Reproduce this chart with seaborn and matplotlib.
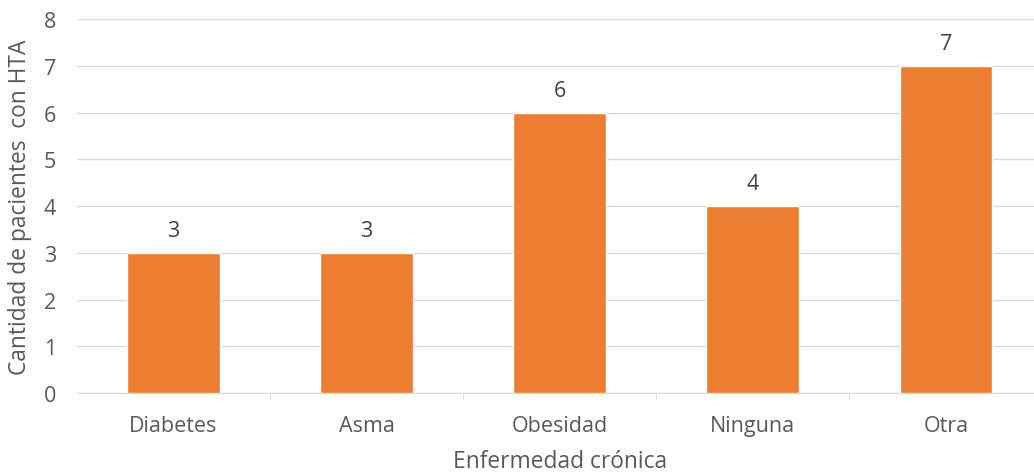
import seaborn as sns
import matplotlib.pyplot as plt
import pandas as pd

categorias = ["Diabetes", "Asma", "Obesidad", "Ninguna", "Otra"]
pacientes = [3, 3, 6, 4, 7]

df = pd.DataFrame({"enfermedad": categorias, "cantidad": pacientes})

sns.set_style("white")
plt.rcParams['font.family'] = ['Open Sans', 'DejaVu Sans']

fig = plt.figure(figsize=(10.34, 4.77), dpi=100)
# axes runs a bit past the right edge, as in the reference
ax = fig.add_axes([0.0742, 0.174, 0.934, 0.784])

sns.barplot(data=df, x="enfermedad", y="cantidad", color="#ED7D31",
            width=0.48, saturation=1, ax=ax, zorder=3)

ax.set_ylim(0, 8)
ax.set_yticks(range(0, 9))
ax.yaxis.grid(True, color="#D9D9D9", linewidth=1, zorder=0)
ax.set_xlim(-0.5, len(categorias) - 0.5)

for i, v in enumerate(pacientes):
    ax.text(i, v + 0.25, str(v), ha="center", va="bottom", fontsize=15.5, color="#404040")

for s in ["top", "right", "left"]:
    ax.spines[s].set_visible(False)
ax.spines["bottom"].set_color("#D9D9D9")

# tick marks between categories
ax.set_xticks([i + 0.5 for i in range(len(categorias) - 1)], minor=True)
ax.tick_params(axis="x", which="minor", length=5, color="#D9D9D9", bottom=True)
ax.tick_params(axis="x", which="major", length=0, labelsize=15.5, labelcolor="#595959", pad=16)
ax.tick_params(axis="y", length=0, labelsize=15.5, labelcolor="#595959", pad=15)

ax.set_xlabel("Enfermedad crónica", fontsize=16.4, color="#595959", labelpad=9)
ax.set_ylabel("Cantidad de pacientes  con HTA", fontsize=16.4, color="#595959", labelpad=8)

fig.savefig("out.png", dpi=100)
